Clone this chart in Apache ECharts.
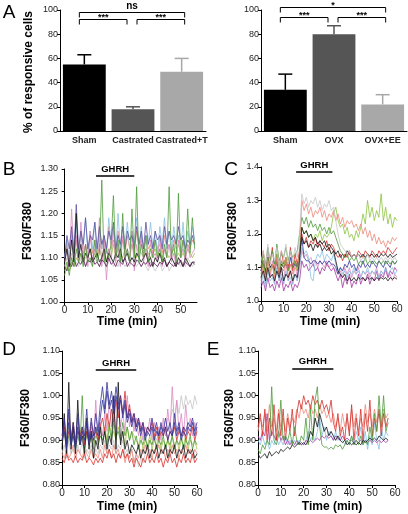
<!DOCTYPE html>
<html><head><meta charset="utf-8">
<script src="https://cdn.jsdelivr.net/npm/echarts@6/dist/echarts.min.js"></script>
<style>html,body{margin:0;padding:0;background:#fff}#c{width:408px;height:514px}</style>
</head><body><div id="c"></div>
<script>
const FONT = '"Liberation Sans", Arial, Helvetica, sans-serif';

// ---------- Panel A ----------
const catsMale = ['Sham', 'Castrated', 'Castrated+T'];
const pctMale = [55, 18, 49];
const errMale = [8, 2, 11];
const catsFemale = ['Sham', 'OVX', 'OVX+EE'];
const pctFemale = [34, 80, 22];
const errFemale = [13, 7, 8];
const barColors = ['#000000', '#555555', '#a8a8a8'];
const sigMale = [
  {from: 0, to: 2, level: 98.5, text: 'ns'},
  {from: 0, to: 1, level: 92.5, text: '***'},
  {from: 1, to: 2, level: 92.5, text: '***'}
];
const sigFemale = [
  {from: 0, to: 2, level: 102.5, text: '*'},
  {from: 0, to: 1, level: 94, text: '***'},
  {from: 1, to: 2, level: 94, text: '***'}
];

// ---------- Trace panels: time ticks / GHRH ----------
const ticksB = [0, 10, 20, 30, 40, 50];
const ticksCDE = [0, 10, 20, 30, 40, 50, 60];
const ghrhB = [13.5, 30, 1.284];
const ghrhC = [15.5, 31.5, 1.385];
const ghrhD = [15, 33, 1.0575];
const ghrhE = [15, 33, 1.06];

// ---------- Panel B traces (1 sample / min, 0..56) ----------
const B_gray = [1.08,1.10,1.07,1.11,1.08,1.09,1.08,1.10,1.09,1.08,
 1.10,1.09,1.08,1.10,1.09,1.08,1.10,1.09,1.08,1.09,
 1.10,1.08,1.09,1.08,1.10,1.09,1.08,1.09,1.08,1.10,
 1.09,1.08,1.09,1.08,1.09,1.08,1.07,1.09,1.08,1.07,
 1.08,1.09,1.07,1.08,1.09,1.07,1.08,1.09,1.08,1.09,
 1.08,1.09,1.08,1.10,1.09,1.08,1.09];
const B_olive = [1.06,1.08,1.07,1.09,1.08,1.10,1.09,1.11,1.09,1.10,
 1.10,1.12,1.09,1.11,1.10,1.12,1.10,1.11,1.09,1.12,
 1.10,1.13,1.10,1.12,1.11,1.10,1.12,1.11,1.10,1.13,
 1.11,1.10,1.12,1.11,1.10,1.12,1.11,1.10,1.11,1.12,
 1.10,1.11,1.10,1.12,1.11,1.10,1.11,1.12,1.10,1.11,
 1.10,1.11,1.10,1.12,1.11,1.10,1.11];
const B_salmon = [1.10,1.13,1.09,1.15,1.11,1.14,1.10,1.16,1.11,1.13,
 1.10,1.15,1.11,1.14,1.10,1.13,1.12,1.15,1.11,1.17,
 1.12,1.14,1.11,1.16,1.12,1.14,1.11,1.15,1.12,1.13,
 1.11,1.16,1.12,1.14,1.11,1.15,1.12,1.13,1.11,1.14,
 1.12,1.13,1.11,1.15,1.12,1.13,1.11,1.14,1.12,1.13,
 1.11,1.14,1.12,1.13,1.12,1.14,1.13];
const B_blue = [1.10,1.14,1.09,1.16,1.11,1.18,1.10,1.15,1.12,1.19,
 1.11,1.16,1.12,1.18,1.10,1.17,1.12,1.15,1.11,1.19,
 1.13,1.16,1.11,1.20,1.12,1.17,1.13,1.18,1.12,1.16,
 1.13,1.19,1.12,1.17,1.11,1.15,1.13,1.18,1.12,1.16,
 1.11,1.17,1.13,1.19,1.12,1.16,1.11,1.17,1.13,1.15,
 1.12,1.18,1.11,1.16,1.13,1.17,1.14];
const B_pink = [1.09,1.12,1.08,1.21,1.10,1.15,1.09,1.18,1.10,1.13,
 1.08,1.16,1.09,1.12,1.10,1.19,1.08,1.14,1.05,1.12,
 1.10,1.17,1.09,1.13,1.08,1.15,1.10,1.12,1.09,1.16,
 1.07,1.13,1.10,1.15,1.09,1.12,1.08,1.14,1.10,1.11,
 1.09,1.15,1.08,1.12,1.10,1.13,1.09,1.11,1.08,1.14,
 1.10,1.12,1.09,1.13,1.10,1.11,1.12];
const B_slate = [1.10,1.15,1.12,1.17,1.11,1.22,1.12,1.16,1.13,1.19,
 1.12,1.15,1.14,1.18,1.12,1.17,1.13,1.15,1.12,1.16,
 1.14,1.18,1.12,1.15,1.13,1.17,1.12,1.16,1.14,1.15,
 1.12,1.17,1.13,1.16,1.12,1.18,1.13,1.15,1.12,1.16,
 1.14,1.15,1.12,1.17,1.13,1.16,1.14,1.15,1.13,1.17,
 1.14,1.15,1.12,1.14,1.13,1.15,1.13];
const B_black = [1.09,1.12,1.08,1.14,1.09,1.20,1.10,1.13,1.09,1.11,
 1.10,1.12,1.09,1.10,1.11,1.09,1.10,1.12,1.09,1.11,
 1.10,1.09,1.11,1.10,1.12,1.09,1.10,1.11,1.09,1.10,
 1.09,1.11,1.10,1.09,1.10,1.11,1.09,1.10,1.08,1.10,
 1.09,1.11,1.09,1.10,1.08,1.09,1.10,1.09,1.08,1.10,
 1.09,1.08,1.10,1.09,1.08,1.09,1.09];
const B_purple = [1.08,1.07,1.09,1.08,1.10,1.08,1.09,1.085,1.10,1.08,
 1.095,1.09,1.10,1.085,1.09,1.08,1.095,1.09,1.08,1.10,
 1.085,1.09,1.08,1.095,1.09,1.085,1.10,1.08,1.09,1.085,
 1.08,1.095,1.09,1.08,1.09,1.085,1.095,1.08,1.09,1.085,
 1.08,1.09,1.085,1.095,1.08,1.09,1.085,1.08,1.09,1.085,
 1.095,1.08,1.09,1.085,1.08,1.09,1.085];
const B_green = [1.07,1.09,1.06,1.10,1.08,1.12,1.09,1.11,1.08,1.13,
 1.09,1.10,1.08,1.14,1.09,1.11,1.275,1.09,1.12,1.10,
 1.13,1.24,1.10,1.14,1.09,1.20,1.10,1.12,1.09,1.21,
 1.10,1.26,1.09,1.13,1.10,1.15,1.09,1.12,1.10,1.14,
 1.10,1.12,1.09,1.13,1.10,1.26,1.10,1.13,1.09,1.245,
 1.10,1.14,1.10,1.21,1.11,1.19,1.12];

// ---------- Panel C traces (0..60) ----------
const C_pink = [1.06,1.11,1.05,1.16,1.07,1.12,1.05,1.14,1.06,1.10,
 1.05,1.13,1.06,1.09,1.05,1.12,1.06,1.10,1.15,1.13,
 1.14,1.12,1.13,1.11,1.12,1.10,1.12,1.11,1.10,1.12,
 1.10,1.11,1.10,1.09,1.08,1.09,1.07,1.10,1.08,1.10,
 1.07,1.09,1.08,1.10,1.07,1.09,1.08,1.09,1.07,1.09,
 1.08,1.10,1.07,1.09,1.08,1.09,1.07,1.08,1.06,1.08,
 1.07];
const C_magenta = [1.04,1.06,1.03,1.07,1.04,1.05,1.03,1.06,1.04,1.07,
 1.03,1.05,1.04,1.06,1.03,1.05,1.04,1.06,1.12,1.10,
 1.11,1.09,1.10,1.11,1.09,1.10,1.08,1.10,1.09,1.11,
 1.10,1.09,1.10,1.08,1.06,1.08,1.04,1.07,1.05,1.08,
 1.04,1.06,1.05,1.08,1.05,1.07,1.06,1.08,1.05,1.07,
 1.06,1.09,1.06,1.08,1.07,1.10,1.07,1.09,1.08,1.10,
 1.09];
const C_lblue = [1.05,1.08,1.04,1.09,1.06,1.07,1.05,1.10,1.06,1.08,
 1.05,1.09,1.06,1.07,1.05,1.08,1.06,1.10,1.16,1.14,
 1.15,1.13,1.07,1.06,1.12,1.14,1.13,1.15,1.12,1.14,
 1.13,1.12,1.14,1.11,1.09,1.10,1.08,1.09,1.07,1.09,
 1.08,1.10,1.08,1.09,1.07,1.09,1.08,1.10,1.08,1.09,
 1.08,1.09,1.07,1.09,1.08,1.10,1.08,1.09,1.10,1.08,
 1.09];
const C_dblue = [1.09,1.12,1.08,1.13,1.10,1.11,1.08,1.14,1.09,1.12,
 1.10,1.11,1.09,1.13,1.10,1.11,1.10,1.13,1.19,1.13,
 1.12,1.12,1.11,1.12,1.12,1.11,1.12,1.11,1.12,1.11,
 1.12,1.11,1.11,1.10,1.08,1.10,1.09,1.11,1.10,1.12,
 1.10,1.11,1.09,1.11,1.10,1.12,1.10,1.11,1.10,1.12,
 1.11,1.10,1.12,1.11,1.10,1.12,1.11,1.10,1.12,1.11,
 1.12];
const C_red = [1.10,1.15,1.09,1.13,1.11,1.16,1.09,1.14,1.10,1.15,
 1.11,1.13,1.10,1.16,1.09,1.14,1.11,1.15,1.20,1.17,
 1.19,1.16,1.18,1.17,1.19,1.16,1.18,1.17,1.16,1.18,
 1.15,1.17,1.16,1.14,1.13,1.14,1.12,1.14,1.13,1.15,
 1.13,1.14,1.13,1.15,1.14,1.13,1.15,1.14,1.13,1.15,
 1.14,1.13,1.15,1.14,1.15,1.14,1.16,1.15,1.14,1.15,
 1.16];
const C_black2 = [1.09,1.12,1.08,1.13,1.10,1.11,1.09,1.12,1.08,1.11,
 1.10,1.12,1.09,1.11,1.10,1.12,1.10,1.14,1.19,1.17,
 1.18,1.16,1.17,1.15,1.17,1.16,1.17,1.15,1.16,1.15,
 1.16,1.14,1.15,1.14,1.15,1.13,1.14,1.13,1.15,1.14,
 1.13,1.14,1.13,1.14,1.13,1.14,1.13,1.14,1.135,1.14,
 1.13,1.14,1.13,1.14,1.135,1.14,1.13,1.14,1.13,1.135,
 1.14];
const C_lgreen = [1.08,1.12,1.07,1.13,1.09,1.11,1.08,1.14,1.09,1.12,
 1.10,1.13,1.09,1.11,1.10,1.12,1.09,1.14,1.22,1.20,
 1.21,1.19,1.20,1.18,1.20,1.19,1.21,1.18,1.20,1.19,
 1.20,1.22,1.26,1.28,1.24,1.22,1.23,1.20,1.22,1.19,
 1.20,1.18,1.21,1.19,1.22,1.26,1.23,1.30,1.25,1.28,
 1.24,1.27,1.25,1.32,1.24,1.28,1.23,1.26,1.22,1.25,
 1.24];
const C_green = [1.10,1.14,1.11,1.16,1.12,1.15,1.11,1.17,1.12,1.14,
 1.13,1.16,1.12,1.15,1.13,1.14,1.15,1.20,1.25,1.23,
 1.25,1.22,1.24,1.22,1.23,1.21,1.23,1.21,1.22,1.20,
 1.22,1.20,1.21,1.19,1.17,1.15,1.14,1.13,1.14,1.12,
 1.13,1.12,1.13,1.11,1.12,1.11,1.13,1.11,1.12,1.11,
 1.12,1.11,1.12,1.11,1.12,1.11,1.12,1.11,1.12,1.11,
 1.12];
const C_salmon = [1.07,1.10,1.06,1.12,1.08,1.11,1.07,1.13,1.08,1.10,
 1.09,1.12,1.07,1.11,1.08,1.10,1.09,1.15,1.30,1.27,
 1.29,1.26,1.28,1.25,1.27,1.26,1.28,1.25,1.27,1.24,
 1.26,1.25,1.27,1.24,1.26,1.23,1.25,1.22,1.24,1.23,
 1.24,1.22,1.23,1.21,1.23,1.20,1.22,1.19,1.21,1.18,
 1.20,1.17,1.19,1.17,1.18,1.16,1.18,1.17,1.19,1.18,
 1.19];
const C_gray = [1.12,1.15,1.10,1.17,1.11,1.14,1.12,1.16,1.10,1.15,
 1.13,1.17,1.11,1.15,1.12,1.16,1.13,1.20,1.32,1.29,
 1.31,1.28,1.30,1.29,1.31,1.28,1.30,1.27,1.29,1.28,
 1.30,1.27,1.28,1.24,1.20,1.17,1.16,1.15,1.14,1.15,
 1.13,1.14,1.13,1.14,1.12,1.13,1.12,1.14,1.12,1.13,
 1.12,1.13,1.12,1.13,1.12,1.13,1.12,1.13,1.12,1.13,
 1.12];
const C_black = [1.07,1.09,1.06,1.10,1.07,1.08,1.06,1.09,1.07,1.10,
 1.06,1.08,1.07,1.09,1.06,1.08,1.07,1.12,1.22,1.20,
 1.21,1.19,1.20,1.18,1.19,1.17,1.18,1.17,1.18,1.16,
 1.17,1.16,1.15,1.12,1.09,1.08,1.07,1.08,1.06,1.07,
 1.06,1.07,1.06,1.07,1.065,1.07,1.06,1.07,1.065,1.07,
 1.06,1.07,1.065,1.07,1.065,1.07,1.06,1.07,1.065,1.07,
 1.065];

// ---------- Panel D traces (0..60) ----------
const D_gray = [0.87,0.89,0.86,0.90,0.87,0.88,0.86,0.89,0.87,0.90,
 0.86,0.88,0.87,0.89,0.86,0.88,0.87,0.89,0.88,0.90,
 0.87,0.89,0.88,0.90,0.87,0.89,0.88,0.90,0.87,0.88,
 0.86,0.88,0.85,0.87,0.84,0.86,0.85,0.87,0.88,0.90,
 0.89,0.91,0.90,0.92,0.91,0.93,0.92,0.95,0.94,0.97,
 0.95,0.99,0.96,1.00,0.97,1.00,0.98,0.99,0.97,1.00,
 0.98];
const D_olive = [0.90,0.92,0.89,0.93,0.90,0.91,0.89,0.92,0.90,0.93,
 0.89,0.91,0.90,0.92,0.89,0.91,0.90,0.92,0.91,0.93,
 0.90,0.94,0.91,0.92,0.90,0.93,0.91,0.92,0.89,0.93,
 0.90,0.92,0.91,0.90,0.89,0.91,0.88,0.90,0.89,0.91,
 0.88,0.90,0.89,0.91,0.88,0.90,0.89,0.90,0.88,0.91,
 0.89,0.90,0.88,0.90,0.89,0.91,0.88,0.90,0.89,0.90,
 0.88];
const D_salmon = [0.87,0.86,0.88,0.86,0.87,0.89,0.86,0.88,0.87,0.86,
 0.88,0.87,0.86,0.88,0.86,0.87,0.86,0.88,0.86,0.89,
 0.87,0.88,0.86,0.89,0.87,0.88,0.86,0.88,0.85,0.87,
 0.86,0.88,0.85,0.87,0.86,0.88,0.87,0.89,0.87,0.88,
 0.86,0.88,0.87,0.89,0.87,0.88,0.86,0.88,0.87,0.89,
 0.87,0.88,0.86,0.88,0.87,0.89,0.87,0.88,0.86,0.88,
 0.87];
const D_green = [0.89,0.92,0.88,0.91,0.89,0.94,0.88,0.91,0.89,1.00,
 0.88,0.92,0.89,0.91,0.88,0.93,0.89,0.91,0.90,0.92,
 0.89,0.93,0.90,0.94,0.91,0.92,0.90,0.94,0.91,0.93,
 0.90,0.92,0.89,0.91,0.88,0.90,0.89,0.91,0.88,0.90,
 0.89,0.91,0.88,0.90,0.89,0.91,0.88,0.90,0.89,0.91,
 0.88,0.90,0.89,0.91,0.88,0.90,0.89,0.91,0.88,0.90,
 0.89];
const D_pink = [0.90,0.94,0.89,0.96,0.90,0.93,0.89,0.95,0.90,0.92,
 0.89,0.94,0.90,0.93,0.89,0.99,0.90,0.94,0.91,0.96,
 0.92,0.99,0.93,0.97,0.92,0.98,0.93,0.96,0.92,1.00,
 0.93,0.96,0.92,0.95,0.91,0.94,0.90,0.93,0.91,0.95,
 0.90,0.94,0.91,0.93,0.90,0.95,0.91,0.97,0.92,1.02,
 0.93,0.99,0.92,0.96,0.91,0.98,0.92,0.95,0.91,0.94,
 0.92];
const D_red2 = [0.90,0.93,0.89,0.92,0.90,0.94,0.89,0.92,0.91,0.93,
 0.89,0.92,0.90,0.94,0.91,0.92,0.90,0.93,0.95,0.92,
 0.96,0.93,0.97,0.94,0.99,0.95,1.00,0.96,1.01,0.95,
 0.98,0.94,0.96,0.93,0.95,0.92,0.94,0.91,0.93,0.92,
 0.94,0.91,0.93,0.90,0.92,0.91,0.93,0.90,0.92,0.91,
 0.93,0.90,0.92,0.91,0.93,0.90,0.92,0.91,0.93,0.90,
 0.92];
const D_black = [0.88,0.96,0.87,1.03,0.88,0.93,0.87,0.99,0.89,0.91,
 0.87,0.95,0.88,0.92,0.86,0.90,0.88,0.93,0.89,0.92,
 0.88,0.91,0.89,1.00,0.88,1.03,0.89,0.92,0.88,0.90,
 0.87,0.89,0.88,0.87,0.89,0.86,0.88,0.87,0.89,0.86,
 0.88,0.87,0.89,0.86,0.88,0.87,0.89,0.86,0.88,0.87,
 0.89,0.86,0.88,0.87,0.89,0.86,0.88,0.87,0.88,0.86,
 0.87];
const D_blue2 = [0.90,0.92,0.88,0.94,0.89,0.91,0.88,0.93,0.89,0.92,
 0.90,0.94,0.89,0.92,0.90,0.93,0.91,0.95,0.99,0.96,
 1.01,0.97,0.99,0.96,1.00,0.97,0.99,0.95,0.98,0.94,
 0.96,0.93,0.95,0.92,0.94,0.91,0.93,0.90,0.92,0.91,
 0.93,0.90,0.92,0.91,0.94,0.91,0.93,0.90,0.92,0.91,
 0.94,0.91,0.93,0.90,0.92,0.91,0.93,0.92,0.94,0.91,
 0.93];
const D_blue = [0.91,0.95,0.89,0.97,0.90,0.94,0.89,0.96,0.90,0.93,
 0.91,0.97,0.90,0.95,0.91,0.96,0.92,0.98,1.02,0.97,
 1.03,0.98,1.01,0.97,1.02,0.98,1.00,0.96,0.99,0.95,
 0.97,0.94,0.96,0.93,0.95,0.92,0.94,0.91,0.93,0.92,
 0.95,0.92,0.94,0.91,0.93,0.92,0.95,0.92,0.94,0.91,
 0.96,0.92,0.94,0.91,0.93,0.92,0.94,0.93,0.95,0.92,
 0.94];
const D_red = [0.86,0.85,0.87,0.855,0.86,0.85,0.865,0.85,0.86,0.855,
 0.87,0.85,0.86,0.855,0.845,0.86,0.85,0.86,0.85,0.87,
 0.86,0.88,0.86,0.87,0.85,0.87,0.86,0.88,0.86,0.87,
 0.85,0.86,0.84,0.86,0.85,0.84,0.86,0.85,0.87,0.85,
 0.86,0.85,0.87,0.85,0.86,0.84,0.86,0.85,0.87,0.85,
 0.86,0.84,0.86,0.85,0.87,0.85,0.86,0.85,0.87,0.85,
 0.86];

// ---------- Panel E traces (0..57) ----------
const E_lblue = [0.90,0.89,0.91,0.89,0.90,0.88,0.90,0.89,0.91,0.89,
 0.90,0.89,0.91,0.89,0.90,0.89,0.90,0.89,0.90,0.895,
 0.89,0.90,0.92,0.90,0.91,0.90,0.92,0.95,0.91,0.93,
 0.90,0.92,0.91,0.90,0.92,0.90,0.91,0.90,0.89,0.90,
 0.89,0.91,0.89,0.92,0.90,0.93,0.89,0.92,0.88,0.91,
 0.89,0.94,0.90,0.88,0.93,0.90,0.92,0.91];
const E_purple = [0.91,0.90,0.92,0.91,0.96,0.90,0.92,0.91,0.90,0.92,
 0.90,0.91,0.89,0.90,0.89,0.90,0.89,0.90,0.89,0.895,
 0.89,0.90,0.895,0.90,0.895,0.90,0.905,0.90,0.91,0.905,
 0.91,0.905,0.91,0.90,0.91,0.905,0.90,0.91,0.90,0.905,
 0.90,0.90,0.895,0.90,0.895,0.90,0.895,0.90,0.895,0.90,
 0.895,0.90,0.895,0.90,0.895,0.90,0.895,0.90];
const E_salmon = [0.92,0.95,0.93,0.96,0.92,0.98,0.93,0.95,0.92,0.97,
 0.93,0.95,0.92,0.96,0.93,0.95,0.94,0.97,0.95,0.98,
 0.96,0.97,0.95,0.98,0.96,0.97,0.95,0.98,0.96,0.97,
 0.95,0.96,0.94,0.96,0.93,0.95,0.92,0.96,0.93,0.95,
 0.92,0.97,0.93,0.96,0.92,0.95,0.93,0.98,0.94,0.96,
 0.93,0.97,0.94,0.96,0.93,0.97,0.95,0.96];
const E_red = [0.93,0.96,0.91,0.97,0.90,0.95,0.91,0.98,0.90,0.96,
 0.91,0.97,0.90,0.95,0.92,0.97,0.91,0.96,0.99,0.97,
 1.00,0.98,0.99,0.97,1.00,0.98,0.99,0.97,0.99,0.97,
 0.98,0.96,0.99,0.94,0.92,0.96,0.91,0.93,0.90,0.96,
 0.91,0.98,0.90,0.95,0.91,0.97,0.90,0.96,0.92,0.99,
 0.91,0.95,0.92,0.97,0.91,0.96,0.93,0.95];
const E_green = [0.88,0.87,0.89,0.88,0.90,0.89,1.02,0.90,0.89,0.91,
 0.99,0.90,0.91,0.90,0.92,0.89,0.93,0.90,0.89,0.91,
 0.90,0.95,0.89,0.97,0.90,0.99,1.02,0.93,0.89,0.885,
 0.885,0.88,0.885,0.88,0.89,0.885,0.89,0.88,0.89,0.90,
 0.89,0.91,0.89,0.90,0.89,0.91,0.89,0.90,0.89,0.93,
 0.90,0.96,0.92,1.00,0.93,1.00,0.92,0.94];
const E_black = [0.87,0.86,0.865,0.87,0.86,0.875,0.865,0.87,0.875,0.87,
 0.88,0.875,0.88,0.885,0.88,0.89,0.885,0.89,0.895,0.89,
 0.895,0.89,0.90,0.92,0.91,0.95,0.93,0.96,0.94,0.92,
 0.93,0.91,0.92,0.91,0.90,0.91,0.90,0.895,0.90,0.89,
 0.895,0.89,0.895,0.89,0.895,0.89,0.90,0.895,0.90,0.905,
 0.90,0.905,0.90,0.91,0.905,0.90,0.905,0.90];

// colours
const COL = {
  green: '#4e9a3a', lgreen: '#8cc43c', olive: '#a4bf48', purple: '#5e1858', magenta: '#a2399e',
  pink: '#d98ac2', lblue: '#86c0e2', slate: '#5d4f9e', dblue: '#34349a', red: '#d4302c',
  salmon: '#ec8878', gray: '#c6c6c6', black: '#111111'
};
const tracesB = [[B_gray,'gray'],[B_olive,'olive'],[B_salmon,'salmon'],[B_blue,'lblue'],[B_pink,'pink'],[B_slate,'slate'],[B_black,'black'],[B_purple,'purple'],[B_green,'green']];
const tracesC = [[C_pink,'pink'],[C_magenta,'magenta'],[C_lblue,'lblue'],[C_dblue,'dblue'],[C_red,'red'],[C_black2,'black'],[C_lgreen,'lgreen'],[C_green,'green'],[C_salmon,'salmon'],[C_gray,'gray'],[C_black,'black']];
const tracesD = [[D_gray,'gray'],[D_olive,'olive'],[D_salmon,'salmon'],[D_green,'green'],[D_pink,'pink'],[D_red2,'red'],[D_black,'black'],[D_blue2,'dblue'],[D_blue,'dblue'],[D_red,'red']];
const tracesE = [[E_lblue,'lblue'],[E_purple,'magenta'],[E_salmon,'salmon'],[E_red,'red'],[E_green,'green'],[E_black,'black']];

// ---------- build option ----------
const chart = echarts.init(document.getElementById('c'), null, {renderer: 'canvas'});
const AX = {color: '#000', width: 1};
const LBL = {fontSize: 9, color: '#222', fontFamily: FONT};

const grids = [
  {left: 60, top: 10, width: 146, height: 121},   // A left
  {left: 261, top: 10, width: 146, height: 121},  // A right
  {left: 60, top: 169, width: 137, height: 133},  // B
  {left: 261, top: 167, width: 136, height: 134}, // C
  {left: 62, top: 351, width: 135, height: 134},  // D
  {left: 258, top: 351, width: 137, height: 134}  // E
];

function catAxis(gi, cats) {
  return {type: 'category', gridIndex: gi, data: cats, axisLine: {lineStyle: AX}, axisTick: {show: false},
    axisLabel: {fontSize: 9, fontWeight: 'bold', color: '#222', fontFamily: FONT, margin: 5, interval: 0}};
}
function yAxis(gi, min, max, interval, digits) {
  return {type: 'value', gridIndex: gi, min, max, interval, splitLine: {show: false},
    axisLine: {show: true, lineStyle: AX}, axisTick: {show: true, length: 3, lineStyle: AX},
    axisLabel: Object.assign({margin: 2, formatter: v => v.toFixed(digits)}, LBL)};
}
function timeAxis(gi, min, max, ticks) {
  return {type: 'value', gridIndex: gi, min, max, splitLine: {show: false},
    axisLine: {show: true, onZero: false, lineStyle: AX},
    axisTick: {show: true, length: 3, lineStyle: AX, customValues: ticks},
    axisLabel: {margin: 3, customValues: ticks, fontSize: 10, color: '#222', fontFamily: FONT}};
}

const xAxes = [catAxis(0, catsMale), catAxis(1, catsFemale),
  timeAxis(2, -2, 57, ticksB), timeAxis(3, 0, 60, ticksCDE), timeAxis(4, 0, 60, ticksCDE), timeAxis(5, 0, 60, ticksCDE)];
const yAxes = [yAxis(0, 0, 100, 20, 0), yAxis(1, 0, 100, 20, 0),
  yAxis(2, 1.0, 1.3, 0.05, 2), yAxis(3, 1.0, 1.4, 0.1, 1), yAxis(4, 0.8, 1.1, 0.05, 2), yAxis(5, 0.8, 1.1, 0.05, 2)];

const series = [];
function addBars(gi, vals, errs, sig) {
  series.push({type: 'bar', xAxisIndex: gi, yAxisIndex: gi, barWidth: '88%', silent: true, animation: false,
    data: vals.map((v, i) => ({value: v, itemStyle: {color: barColors[i]}}))});
  series.push({type: 'custom', xAxisIndex: gi, yAxisIndex: gi, silent: true, animation: false, clip: false, z: 1,
    data: vals.map((v, i) => [i, v, errs[i]]),
    renderItem: (params, api) => {
      const i = params.dataIndex;
      const p0 = api.coord([i, vals[i]]);
      const p1 = api.coord([i, vals[i] + errs[i]]);
      const c = barColors[i];
      return {type: 'group', children: [
        {type: 'line', shape: {x1: p0[0], y1: p0[1], x2: p1[0], y2: p1[1]}, style: {stroke: c, lineWidth: 1.5}},
        {type: 'line', shape: {x1: p1[0] - 7, y1: p1[1], x2: p1[0] + 7, y2: p1[1]}, style: {stroke: c, lineWidth: 1.5}}
      ]};
    }});
  series.push({type: 'custom', xAxisIndex: gi, yAxisIndex: gi, silent: true, animation: false, clip: false,
    data: sig.map(s => [s.from, s.level]),
    renderItem: (params, api) => {
      const s = sig[params.dataIndex];
      const a = api.coord([s.from, s.level]);
      const b = api.coord([s.to, s.level]);
      const x1 = a[0] + (s.from === 0 ? -5 : 4);
      const x2 = b[0] + (s.to === 2 ? 3 : -6);
      const y = Math.round(a[1]) + 0.5;
      const isNs = s.text === 'ns';
      return {type: 'group', children: [
        {type: 'polyline', shape: {points: [[x1, y + 5], [x1, y], [x2, y], [x2, y + 5]]}, style: {stroke: '#000', lineWidth: 1, fill: null}},
        {type: 'text', style: {text: s.text, x: (x1 + x2) / 2, y: isNs ? y - 6 : y - 2, align: 'center', verticalAlign: 'middle',
          font: 'bold ' + (isNs ? 10 : 9) + 'px ' + FONT, fill: '#000'}}
      ]};
    }});
}
addBars(0, pctMale, errMale, sigMale);
addBars(1, pctFemale, errFemale, sigFemale);

function addTraces(gi, list, ghrh) {
  list.forEach((t, k) => {
    const s = {type: 'line', xAxisIndex: gi, yAxisIndex: gi, symbol: 'none', silent: true, animation: false,
      data: t[0].map((v, i) => [i, v]), lineStyle: {color: COL[t[1]], width: 0.8}, itemStyle: {color: COL[t[1]]}};
    if (k === list.length - 1) {
      s.markLine = {silent: true, symbol: ['none', 'none'], animation: false,
        lineStyle: {color: '#000', width: 1.5, type: 'solid'},
        label: {show: true, formatter: 'GHRH', position: 'insideMiddleTop', distance: 2,
          fontSize: 9.5, fontWeight: 'bold', color: '#000', fontFamily: FONT},
        data: [[{coord: [ghrh[0], ghrh[2]]}, {coord: [ghrh[1], ghrh[2]]}]]};
    }
    series.push(s);
  });
}
addTraces(2, tracesB, ghrhB);
addTraces(3, tracesC, ghrhC);
addTraces(4, tracesD, ghrhD);
addTraces(5, tracesE, ghrhE);

function txt(t, x, y, font, rot) {
  const o = {type: 'text', x, y, style: {text: t, font: font + ' ' + FONT, fill: '#000', align: 'center', verticalAlign: 'middle'}};
  if (rot) o.rotation = Math.PI / 2;
  return o;
}
const graphic = [
  txt('A', 9, 13, '19px'), txt('B', 9, 170, '19px'), txt('C', 231, 170, '19px'),
  txt('D', 9, 350, '19px'), txt('E', 213, 350, '19px'),
  txt('% of responsive cells', 29, 72, 'bold 12px', true),
  txt('F360/F380', 28, 231, 'bold 12px', true), txt('F360/F380', 233, 231, 'bold 12px', true),
  txt('F360/F380', 26, 418, 'bold 12px', true), txt('F360/F380', 230, 418, 'bold 12px', true),
  txt('Time (min)', 127, 322, 'bold 12px'), txt('Time (min)', 330, 322, 'bold 12px'),
  txt('Time (min)', 127, 507, 'bold 12px'), txt('Time (min)', 332, 507, 'bold 12px')
];

chart.setOption({animation: false, backgroundColor: '#fff', grid: grids, xAxis: xAxes, yAxis: yAxes, series, graphic});
</script></body></html>
